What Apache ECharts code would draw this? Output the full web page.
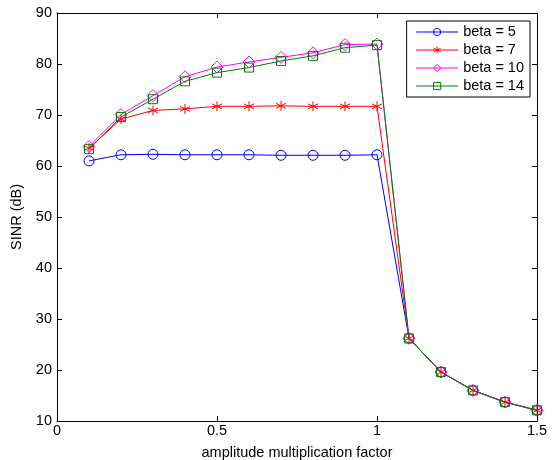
<!DOCTYPE html>
<html><head><meta charset="utf-8">
<script src="https://cdn.jsdelivr.net/npm/echarts@6/dist/echarts.min.js"></script>
<style>html,body{margin:0;padding:0;background:#fff}#c{width:558px;height:460px}</style>
</head><body><div id="c"></div>
<script>
const xValues = [0.1,0.2,0.3,0.4,0.5,0.6,0.7,0.8,0.9,1.0,1.1,1.2,1.3,1.4,1.5];
const beta5  = [61.0,62.2,62.3,62.2,62.2,62.2,62.1,62.1,62.1,62.2,26.2,19.6,16.0,13.7,12.1];
const beta7  = [63.5,69.2,70.9,71.2,71.7,71.7,71.8,71.7,71.7,71.7,26.2,19.6,16.0,13.7,12.1];
const beta10 = [63.8,70.1,73.8,77.5,79.4,80.4,81.3,82.2,83.8,83.9,26.2,19.6,16.0,13.7,12.1];
const beta14 = [63.3,69.6,73.1,76.6,78.3,79.3,80.6,81.6,83.2,83.7,26.2,19.6,16.0,13.7,12.1];
const seriesNames = ['beta = 5','beta = 7','beta = 10','beta = 14'];
const xTicks = [0,0.5,1,1.5];
const yTicks = [10,20,30,40,50,60,70,80,90];

const pairs = arr => xValues.map((x,i)=>[x,arr[i]]);
const font = 'Liberation Sans, Arial, sans-serif';
const fs = 14.5;
const star = 'path://M0,-5L0,5M-4.33,-2.5L4.33,2.5M-4.33,2.5L4.33,-2.5';
function mk(name, data, color, symbol, size) {
  return {
    name, type:'line', data: pairs(data), symbol, symbolSize:size,
    lineStyle:{color, width:1},
    itemStyle:{color:'rgba(0,0,0,0)', borderColor:color, borderWidth:1},
    animation:false
  };
}
const chart = echarts.init(document.getElementById('c'));
const axisCommon = {
  axisLine:{show:true,onZero:false,lineStyle:{color:'#000',width:1}},
  axisTick:{show:true,inside:true,length:5,lineStyle:{color:'#000'}},
  splitLine:{show:false}
};
chart.setOption({
  animation:false,
  backgroundColor:'#fff',
  grid:{left:57,right:21,top:13,bottom:39,containLabel:false,outerBoundsMode:'none'},
  legend:{
    right:28, top:21, orient:'vertical', itemGap:2,
    borderColor:'#000', borderWidth:1, padding:[3,6,3,9],
    itemWidth:42, itemHeight:9, backgroundColor:'#fff',
    lineStyle:{width:1},
    itemStyle:{borderWidth:1, color:'rgba(0,0,0,0)'},
    textStyle:{fontFamily:font,fontSize:fs,color:'#000',lineHeight:16},
    data: seriesNames
  },
  xAxis:[
    Object.assign({type:'value',min:0,max:1.5,interval:0.5,position:'bottom',
      name:'amplitude multiplication factor',nameLocation:'middle',nameGap:24,
      nameTextStyle:{fontFamily:font,fontSize:fs,color:'#000'},
      axisLabel:{fontFamily:font,fontSize:fs,color:'#000',margin:2,
        formatter:v=>xTicks.includes(v)?String(v):''}},axisCommon),
    Object.assign({type:'value',min:0,max:1.5,interval:0.5,position:'top',axisLabel:{show:false}},axisCommon)
  ],
  yAxis:[
    Object.assign({type:'value',min:10,max:90,interval:10,position:'left',
      name:'SINR (dB)',nameLocation:'middle',nameGap:26,
      nameTextStyle:{fontFamily:font,fontSize:fs,color:'#000'},
      axisLabel:{fontFamily:font,fontSize:fs,color:'#000',margin:5,
        formatter:v=>yTicks.includes(v)?String(v):''}},axisCommon),
    Object.assign({type:'value',min:10,max:90,interval:10,position:'right',axisLabel:{show:false}},axisCommon)
  ],
  series:[
    mk(seriesNames[0], beta5, '#0000ff', 'circle', 10),
    mk(seriesNames[1], beta7, '#ff0000', star, 10),
    mk(seriesNames[2], beta10, '#ff00ff', 'diamond', 12),
    mk(seriesNames[3], beta14, '#008000', 'rect', 9)
  ]
});
</script></body></html>
